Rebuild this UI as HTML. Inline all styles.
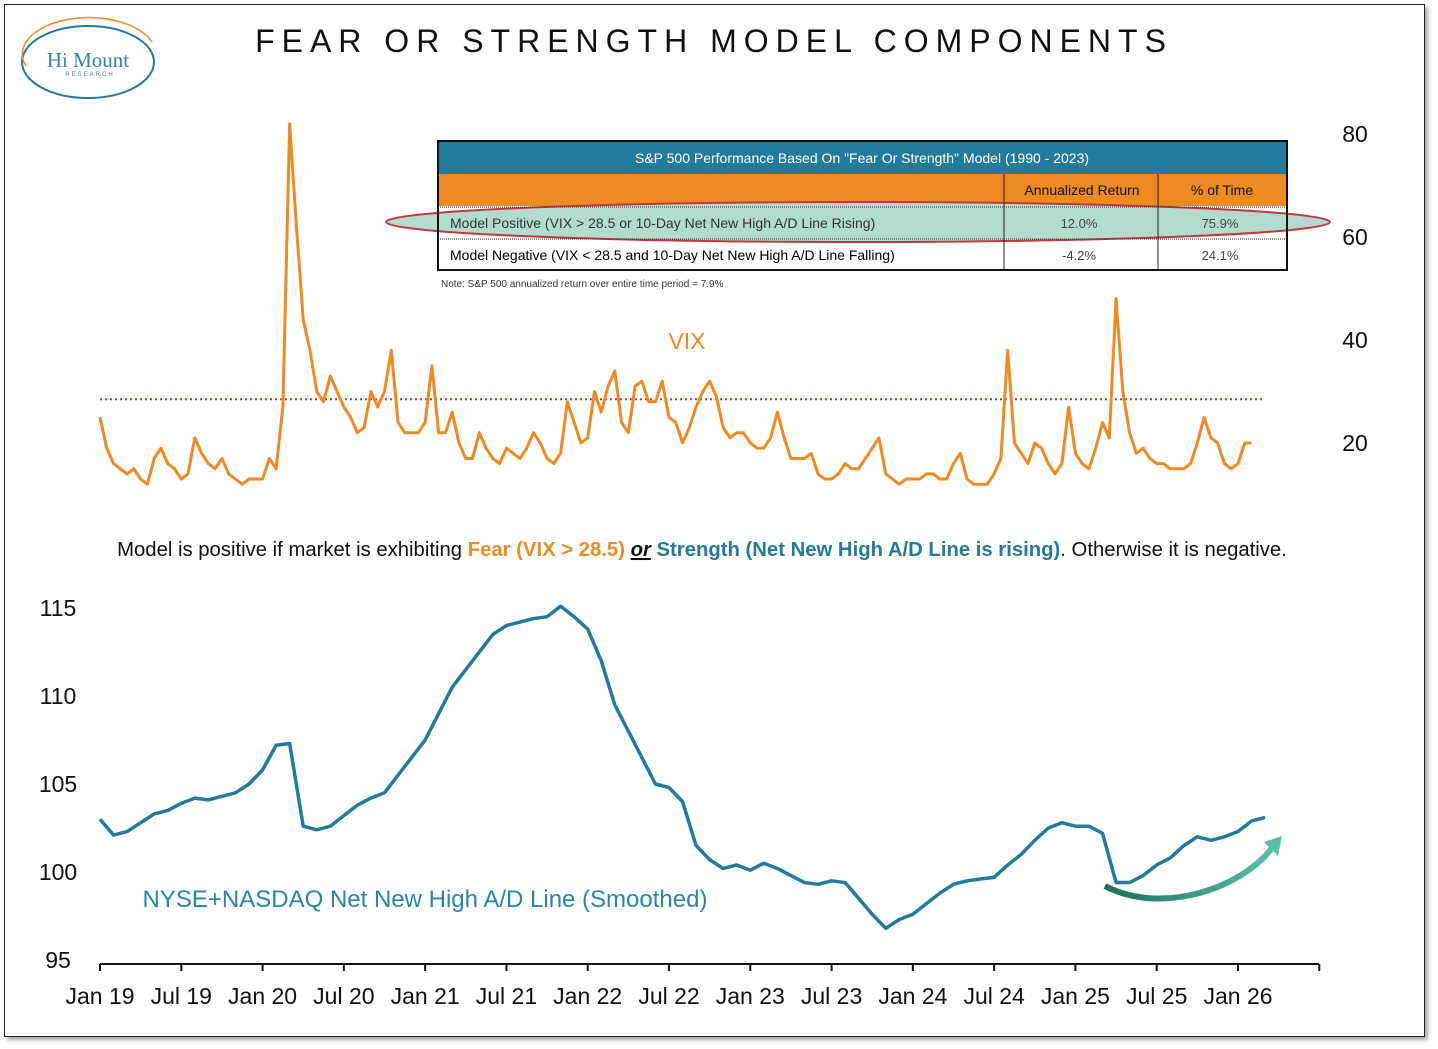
<!DOCTYPE html>
<html><head><meta charset="utf-8">
<style>
body{margin:0;background:#fff;width:1438px;height:1049px;overflow:hidden;font-family:"Liberation Sans",sans-serif}
#frame{position:absolute;left:4px;top:4px;width:1419px;height:1031px;border:1.5px solid #222;box-shadow:3px 3px 4px rgba(0,0,0,.35);background:#fff}
</style></head>
<body>
<div id="frame"></div>
<svg id="c" width="1438" height="1049" style="position:absolute;left:0;top:0">
<defs>
<linearGradient id="ag" x1="0" x2="1"><stop offset="0" stop-color="#1d6f5c"/><stop offset="1" stop-color="#5bbfa5"/></linearGradient>
</defs>
<g>
<ellipse cx="88" cy="62" rx="66" ry="36" fill="none" stroke="#237a9c" stroke-width="2"/>
<path d="M24,70 A66,36 0 0 1 150,46" fill="none" stroke="#ee8a2a" stroke-width="1.5" transform="translate(2,-4)"/>
<text x="88" y="67" text-anchor="middle" font-family="Liberation Serif,serif" font-size="21" fill="#2f86a6">Hi Mount</text>
<text x="90" y="76" text-anchor="middle" font-size="6" letter-spacing="2" fill="#2f86a6">RESEARCH</text>
</g>
<text x="714" y="52" text-anchor="middle" font-size="32" letter-spacing="7" fill="#111">FEAR OR STRENGTH MODEL COMPONENTS</text>
<g id="vixg"></g>
<g>
<rect x="438" y="141" width="849" height="33" fill="#237a9c"/>
<text x="862" y="163" text-anchor="middle" font-size="14" fill="#fff">S&amp;P 500 Performance Based On "Fear Or Strength" Model (1990 - 2023)</text>
<rect x="438" y="174" width="849" height="32" fill="#ee8a22"/>
<text x="1082" y="195" text-anchor="middle" font-size="14" fill="#111">Annualized Return</text>
<text x="1222" y="195" text-anchor="middle" font-size="14" fill="#111">% of Time</text>
<rect x="438" y="206" width="849" height="64" fill="#fff"/>
<ellipse cx="858" cy="222" rx="472" ry="20" fill="#b4dbd0" stroke="#c0393b" stroke-width="2"/>
<line x1="438" y1="207" x2="1287" y2="207" stroke="#333" stroke-dasharray="1,1"/>
<line x1="438" y1="239" x2="1287" y2="239" stroke="#333" stroke-dasharray="1,1"/>
<line x1="1004" y1="174" x2="1004" y2="270" stroke="#222"/>
<line x1="1158" y1="174" x2="1158" y2="270" stroke="#222"/>
<rect x="438" y="141" width="849" height="129" fill="none" stroke="#111" stroke-width="2"/>
<text x="450" y="228" font-size="14" fill="#333">Model Positive (VIX &gt; 28.5 or 10-Day Net New High A/D Line Rising)</text>
<text x="1079" y="228" text-anchor="middle" font-size="13" fill="#444">12.0%</text>
<text x="1220" y="228" text-anchor="middle" font-size="13" fill="#444">75.9%</text>
<text x="450" y="260" font-size="14" fill="#000">Model Negative (VIX &lt; 28.5 and 10-Day Net New High A/D Line Falling)</text>
<text x="1079" y="260" text-anchor="middle" font-size="13" fill="#444">-4.2%</text>
<text x="1220" y="260" text-anchor="middle" font-size="13" fill="#444">24.1%</text>
<text x="441" y="287" font-size="10" fill="#333">Note: S&amp;P 500 annualized return over entire time period = 7.9%</text>
</g>
<text x="687" y="349" text-anchor="middle" font-size="23" fill="#ee8a22">VIX</text>
<text x="702" y="556" text-anchor="middle" font-size="20.3" fill="#111">Model is positive if market is exhibiting <tspan fill="#ee8a22" font-weight="bold">Fear (VIX &gt; 28.5)</tspan> <tspan font-weight="bold" font-style="italic" text-decoration="underline">or</tspan> <tspan fill="#237a9c" font-weight="bold">Strength (Net New High A/D Line is rising)</tspan>. Otherwise it is negative.</text>
<g id="adg"></g>
<text x="425" y="907" text-anchor="middle" font-size="24" fill="#2a86a8">NYSE+NASDAQ Net New High A/D Line (Smoothed)</text>
<g>
<path d="M1105,886 C1160,915 1240,890 1272,848" fill="none" stroke="url(#ag)" stroke-width="6"/>
<polygon points="1264,842 1282,836 1278,856" fill="#5bbfa5"/>
</g>
</svg>
<script>
const vixTicks=[20,40,60,80];
const vixThreshold=28.5;
const vixValues=[25,19,16,15,14,15,13,12,17,19,16,15,13,14,21,18,16,15,17,14,13,12,13,13,
13,17,15,27,82,62,44,38,30,28,33,30,27,25,22,23,30,27,30,38,24,22,22,22,
24,35,22,22,26,20,17,17,22,19,17,16,19,18,17,19,22,20,17,16,18,28,24,20,
21,30,26,31,34,24,22,31,32,28,28,32,25,24,20,23,27,30,32,29,23,21,22,22,
20,19,19,21,26,21,17,17,17,18,14,13,13,14,16,15,15,17,19,21,14,13,12,13,
13,13,14,14,13,13,16,18,13,12,12,12,14,17,38,20,18,16,20,19,16,14,16,27,
18,16,15,19,24,21,48,30,22,18,19,17,16,16,15,15,15,16,20,25,21,20,16,15,
16,20,20];
const adTicks=[95,100,105,110,115];
const adValues=[103.0,102.1,102.3,102.8,103.3,103.5,103.9,104.2,104.1,104.3,104.5,105.0,
105.8,107.2,107.3,102.6,102.4,102.6,103.2,103.8,104.2,104.5,105.5,106.5,
107.5,109.0,110.5,111.5,112.5,113.5,114.0,114.2,114.4,114.5,115.1,114.5,
113.8,112.0,109.5,108.0,106.5,105.0,104.8,104.0,101.5,100.7,100.2,100.4,
100.1,100.5,100.2,99.8,99.4,99.3,99.5,99.4,98.5,97.6,96.8,97.3,
97.6,98.2,98.8,99.3,99.5,99.6,99.7,100.4,101.0,101.8,102.5,102.8,
102.6,102.6,102.2,99.4,99.4,99.8,100.4,100.8,101.5,102.0,101.8,102.0,
102.3,102.9,103.1];
const xLabels=["Jan 19","Jul 19","Jan 20","Jul 20","Jan 21","Jul 21","Jan 22","Jul 22","Jan 23","Jul 23","Jan 24","Jul 24","Jan 25","Jul 25","Jan 26"];

const NS="http://www.w3.org/2000/svg";
const xM=m=>100+m*(1138/84);
const yV=v=>443-(v-20)*5.15;
const yA=v=>960-(v-95)*17.6;
function mk(t,a,p){const e=document.createElementNS(NS,t);for(const k in a)e.setAttribute(k,a[k]);p.appendChild(e);return e;}
const vg=document.getElementById('vixg'), ag=document.getElementById('adg');

for(const t of vixTicks){const e=mk('text',{x:1355,y:yV(t)+8,'text-anchor':'middle','font-size':23,fill:'#111'},vg);e.textContent=t;

}
const th=mk('line',{x1:100,x2:1265,y1:yV(vixThreshold),y2:yV(vixThreshold),stroke:'#c0393b','stroke-width':2,'stroke-dasharray':'2,3'},vg);


const vp=mk('polyline',{points:vixValues.map((v,i)=>xM(i/2)+','+yV(v)).join(' '),fill:'none',stroke:'#ee8a22','stroke-width':3,'stroke-linejoin':'round'},vg);



for(const t of adTicks){const e=mk('text',{x:58,y:yA(t)+8,'text-anchor':'middle','font-size':23,fill:'#111'},ag);e.textContent=t;

}
const ax=mk('line',{x1:100,x2:1319,y1:964,y2:964,stroke:'#111','stroke-width':2},ag);


for(let k=0;k<=15;k++){const x=xM(k*6);const t=mk('line',{x1:x,x2:x,y1:964,y2:971,stroke:'#111','stroke-width':2},ag);

}
xLabels.forEach((l,k)=>{const e=mk('text',{x:xM(k*6),y:1004,'text-anchor':'middle','font-size':23,fill:'#111'},ag);e.textContent=l;

});
const ap=mk('polyline',{points:adValues.map((v,i)=>xM(i)+','+yA(v)).join(' '),fill:'none',stroke:'#237a9c','stroke-width':3.5,'stroke-linejoin':'round'},ag);


</script>
</body></html>
